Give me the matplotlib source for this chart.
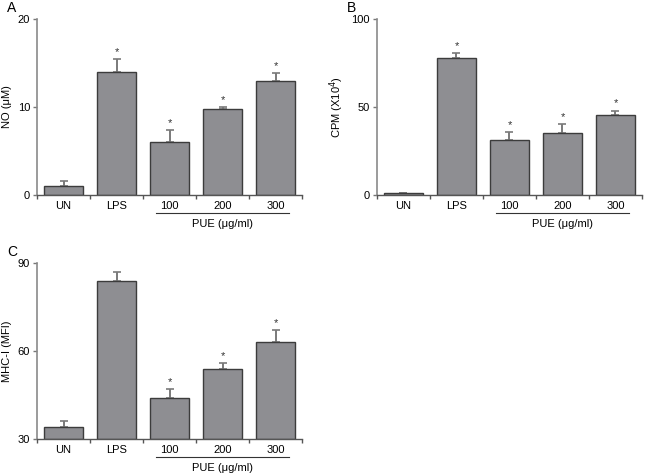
import numpy as np
import matplotlib
matplotlib.use("Agg")
import matplotlib.pyplot as plt
from matplotlib.transforms import blended_transform_factory

plt.rcParams['font.family'] = ['Liberation Sans', 'DejaVu Sans']

# Datos
groups = ['UN', 'LPS', '100', '200', '300']

no_mean = [1.0, 14.0, 6.0, 9.8, 13.0]
no_err = [0.6, 1.4, 1.4, 0.2, 0.9]
no_star = [False, True, True, True, True]

cpm_mean = [1.0, 78.0, 31.0, 35.5, 45.5]
cpm_err = [0.0, 2.5, 4.8, 5.0, 2.5]
cpm_star = [False, True, True, True, True]

mhc_mean = [34.0, 84.0, 44.0, 54.0, 63.0]
mhc_err = [2.0, 3.0, 3.0, 2.0, 4.0]
mhc_star = [False, False, True, True, True]

W, H = 645, 475
bar_color = '#8e8e92'
edge_color = '#3c3c3c'
err_color = '#7a7a7a'
fs = 8


def panel(rect, means, errs, stars, ylim, yticks, ylabel, letter):
    ax = fig.add_axes(rect)
    x = np.arange(len(groups))
    ax.bar(x, np.array(means) - ylim[0], bottom=ylim[0], width=0.72,
           color=bar_color, edgecolor=edge_color, linewidth=1.0, zorder=2)
    ax.errorbar(x, means, yerr=[np.zeros(len(errs)), errs], fmt='none',
                ecolor=err_color, elinewidth=1.4, capsize=3, capthick=1.2, zorder=1)
    for xi, m, e, s in zip(x, means, errs, stars):
        if s:
            ax.annotate('*', (xi, m + e), xytext=(0, 1.5), textcoords='offset points',
                        ha='center', va='bottom', fontsize=8, color='#333333')
    ax.set_xlim(-0.5, 4.5)
    ax.set_ylim(*ylim)
    ax.set_yticks(yticks)
    ax.set_xticks(np.arange(-0.5, 5, 1))
    ax.set_xticklabels([])
    ax.set_xticks(x, minor=True)
    ax.set_xticklabels(groups, minor=True)
    ax.tick_params(axis='x', which='minor', length=0, pad=4.5, labelsize=fs)
    ax.tick_params(axis='x', which='major', length=3, width=1, color='#555555')
    ax.tick_params(axis='y', length=3, width=1, color='#777777', labelsize=fs, pad=2)
    ax.spines['top'].set_visible(False)
    ax.spines['right'].set_visible(False)
    ax.spines['left'].set_color('#8a8a8a')
    ax.spines['left'].set_linewidth(1.2)
    ax.spines['bottom'].set_color('#555555')
    ax.spines['bottom'].set_linewidth(1.0)
    ax.set_ylabel(ylabel, fontsize=fs, labelpad=4)

    tr = blended_transform_factory(ax.transData, ax.transAxes)
    ax.plot([1.75, 4.25], [-0.102, -0.102], transform=tr, color='#333333',
            linewidth=0.8, clip_on=False)
    ax.text(3.0, -0.165, 'PUE (\u03bcg/ml)', transform=tr, ha='center', va='center',
            fontsize=fs)

    pos = ax.get_position()
    fig.text(pos.x0 - 30 / W, pos.y1 + 11 / H, letter, fontsize=10, va='center')
    return ax


fig = plt.figure(figsize=(W / 100, H / 100), dpi=100)

panel([37 / W, 1 - 195 / H, 265 / W, 176 / H], no_mean, no_err, no_star,
      (0, 20), [0, 10, 20], 'NO (\u03bcM)', 'A')
panel([377 / W, 1 - 195 / H, 265 / W, 176 / H], cpm_mean, cpm_err, cpm_star,
      (0, 100), [0, 50, 100], 'CPM (X10$^4$)', 'B')
panel([37 / W, 1 - 439 / H, 265 / W, 176 / H], mhc_mean, mhc_err, mhc_star,
      (30, 90), [30, 60, 90], 'MHC-I (MFI)', 'C')

fig.savefig('out.png', dpi=100)
